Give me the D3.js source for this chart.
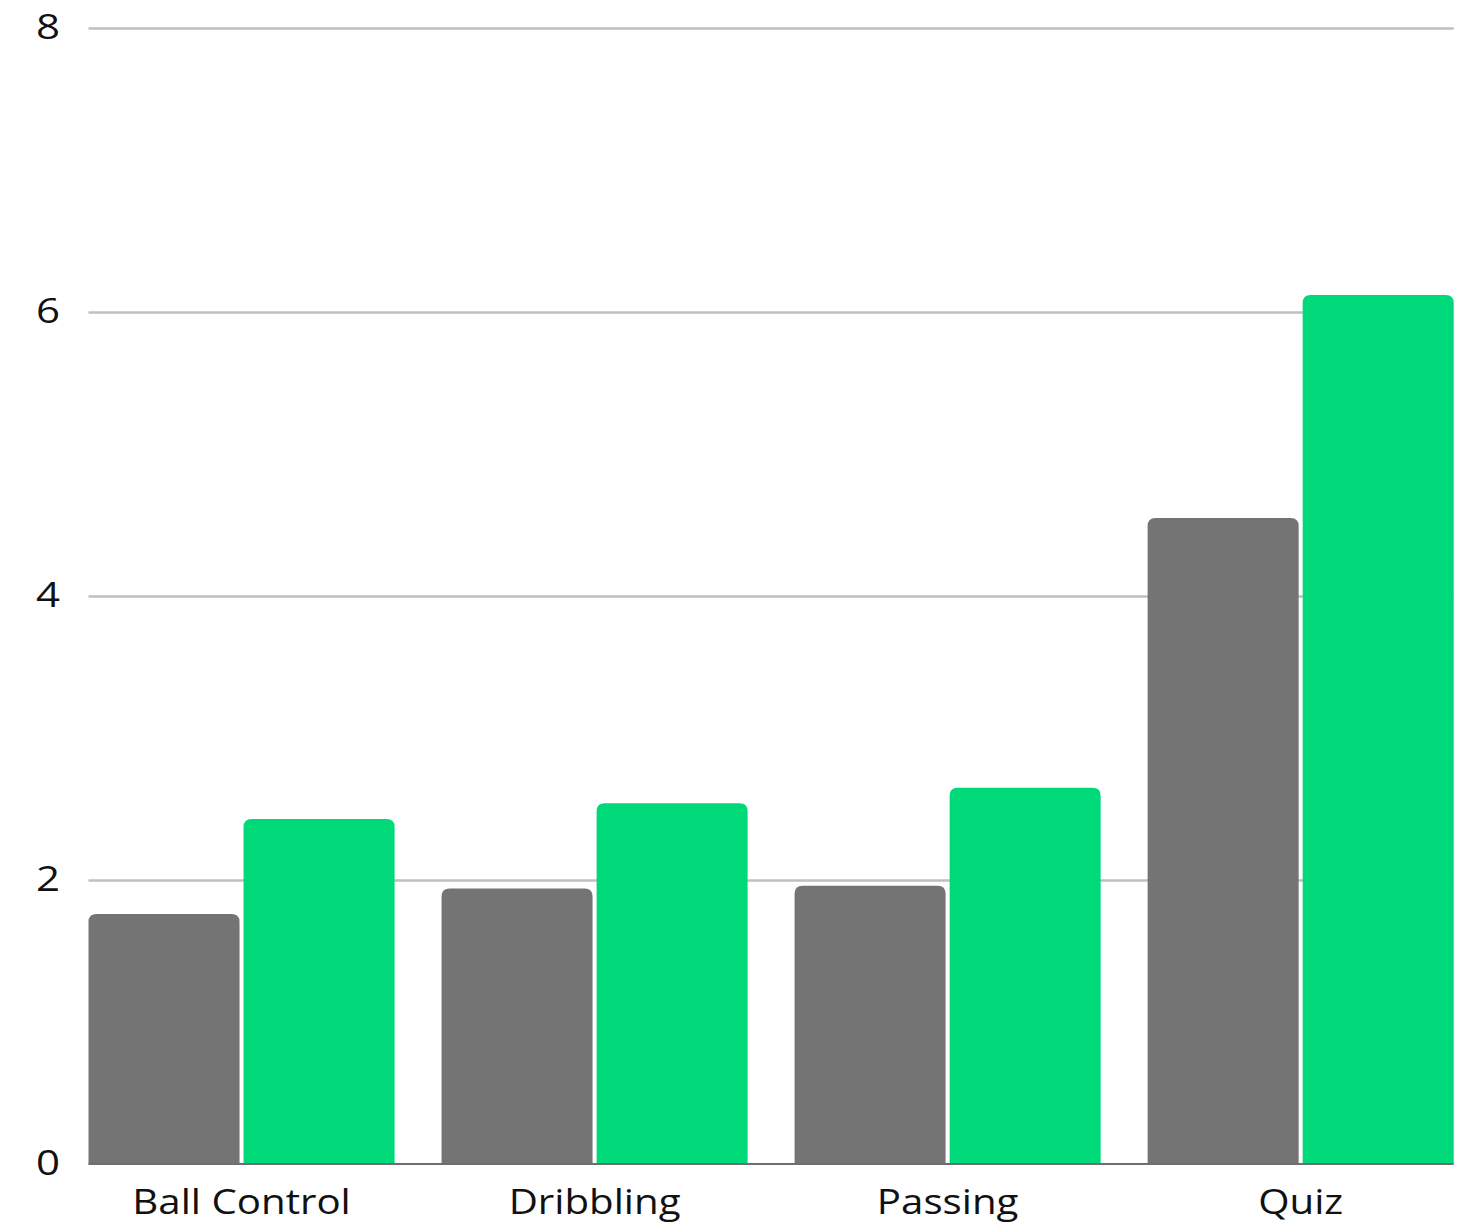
<!DOCTYPE html>
<html>
<head>
<meta charset="utf-8">
<script src="https://cdn.jsdelivr.net/npm/d3@7"></script>
<style>
  html, body { margin: 0; padding: 0; background: #fff; }
  svg { display: block; }
  text { font-family: "Open Sans", Lato, sans-serif; fill: #111; }
</style>
</head>
<body>
<svg id="chart" width="1460" height="1228"></svg>
<script>
const categories = ["Ball Control", "Dribbling", "Passing", "Quiz"];
const seriesNames = ["Before", "After"];
const seriesBefore = [1.76, 1.94, 1.96, 4.55];
const seriesAfter = [2.43, 2.54, 2.65, 6.12];
const yTicks = [0, 2, 4, 6, 8];
const colors = ["#747474", "#00d97a"];

(function () {
const svg = d3.select("#chart");
const mLeft = 88.5, mRight = 1453.7, mTop = 28, mBottom = 1164;

const x = d3.scaleBand().domain(categories).range([mLeft, mRight]).paddingInner(0.133).paddingOuter(0);
const xs = d3.scaleBand().domain(seriesNames).range([0, x.bandwidth()]).paddingInner(0.026);
const y = d3.scaleLinear().domain([0, 8]).range([mBottom, mTop]);

// gridlines
const grid = svg.append("g")
  .attr("transform", `translate(${mLeft},0)`)
  .call(d3.axisLeft(y).tickValues(yTicks.filter(d => d > 0)).tickSize(-(mRight - mLeft)).tickFormat(""));
grid.select(".domain").remove();
grid.selectAll("line").attr("stroke", "#bfbfbf").attr("stroke-width", 2.5);

// y labels
const yAxis = svg.append("g").attr("transform", `translate(60,0)`)
  .call(d3.axisLeft(y).tickValues(yTicks).tickSize(0).tickPadding(0).tickFormat(d3.format("d")));
yAxis.select(".domain").remove();
yAxis.selectAll("text").attr("font-size", 35).attr("font-family", "\"Open Sans\", Lato, sans-serif")
  .attr("fill", "#111").attr("dy", "0.3em")
  .attr("transform", "scale(1.2,1)").attr("transform-origin", "0 0");

// bars with rounded top corners
const r = 8;
function barPath(x0, w, yTop, yBot) {
  const rr = Math.min(r, (yBot - yTop), w / 2);
  return `M${x0},${yBot}V${yTop + rr}Q${x0},${yTop} ${x0 + rr},${yTop}H${x0 + w - rr}Q${x0 + w},${yTop} ${x0 + w},${yTop + rr}V${yBot}Z`;
}
const rows = categories.map((c, i) => ({ c, vals: [seriesBefore[i], seriesAfter[i]] }));
const groups = svg.append("g").selectAll("g").data(rows).join("g")
  .attr("transform", d => `translate(${x(d.c)},0)`);
groups.selectAll("path").data(d => d.vals.map((v, j) => ({ v, s: seriesNames[j], j }))).join("path")
  .attr("d", d => barPath(xs(d.s), xs.bandwidth(), y(d.v), y(0)))
  .attr("fill", d => colors[d.j]);

// baseline
svg.append("line").attr("x1", mLeft).attr("x2", mRight).attr("y1", y(0)).attr("y2", y(0))
  .attr("stroke", "#6e6e6e").attr("stroke-width", 2);

// x labels
const xAxis = svg.append("g").attr("transform", `translate(0,${mBottom})`)
  .call(d3.axisBottom(x).tickSize(0).tickPadding(0));
xAxis.select(".domain").remove();
xAxis.selectAll("text").attr("font-size", 35).attr("font-family", "\"Open Sans\", Lato, sans-serif")
  .attr("fill", "#111").attr("dy", "1.43em")
  .attr("transform", "scale(1.15,1)").attr("transform-origin", "0 0");
})();
</script>
</body>
</html>
